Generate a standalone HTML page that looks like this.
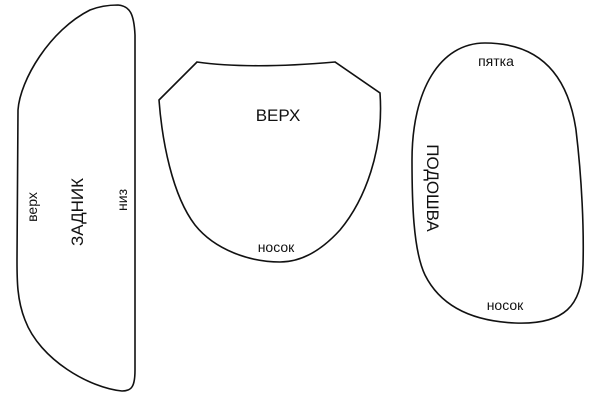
<!DOCTYPE html>
<html><head><meta charset="utf-8"><style>
html,body{margin:0;padding:0;background:#fff;}
svg{display:block}
text{font-family:"Liberation Sans","DejaVu Sans",sans-serif;fill:#111}
</style></head><body>
<svg width="600" height="400" viewBox="0 0 600 400" xmlns="http://www.w3.org/2000/svg">
<g fill="none" stroke="#111" stroke-width="1.6">
<path d="M118,5 C130,6 134,14 135,35 L135,370 C135,386 132,391 122,391 C90,388 40,360 25,320 C17,300 17,280 17,260 L18,110 C20,80 50,30 90,10 C100,6 110,5 118,5 Z"/>
<path d="M159,100 L197,62 C240,68 290,66 335,62 L380,93 C384,150 365,200 340,230 C320,252 300,262 280,262 C250,262 215,250 195,225 C172,195 162,140 159,100 Z"/>
<path d="M485,43 C540,43 568,75 576,130 C582,180 584,230 583,265 C582,305 565,325 515,323 C470,321 440,305 425,275 C413,250 412,200 412,160 C412,90 440,43 485,43 Z"/>
</g>
<text x="0" y="0" font-size="14" text-anchor="middle" transform="translate(37,207) rotate(-90)">верх</text>
<text x="0" y="0" font-size="17" text-anchor="middle" transform="translate(83,212) rotate(-90)">ЗАДНИК</text>
<text x="0" y="0" font-size="14" text-anchor="middle" transform="translate(127,200) rotate(-90)">низ</text>
<text x="278" y="121" font-size="17" text-anchor="middle">ВЕРХ</text>
<text x="276" y="252" font-size="14" text-anchor="middle">носок</text>
<text x="496" y="66" font-size="14" text-anchor="middle">пятка</text>
<text x="0" y="0" font-size="17" text-anchor="middle" transform="translate(427,188) rotate(90)">ПОДОШВА</text>
<text x="505" y="310" font-size="14" text-anchor="middle">носок</text>
</svg>
</body></html>
